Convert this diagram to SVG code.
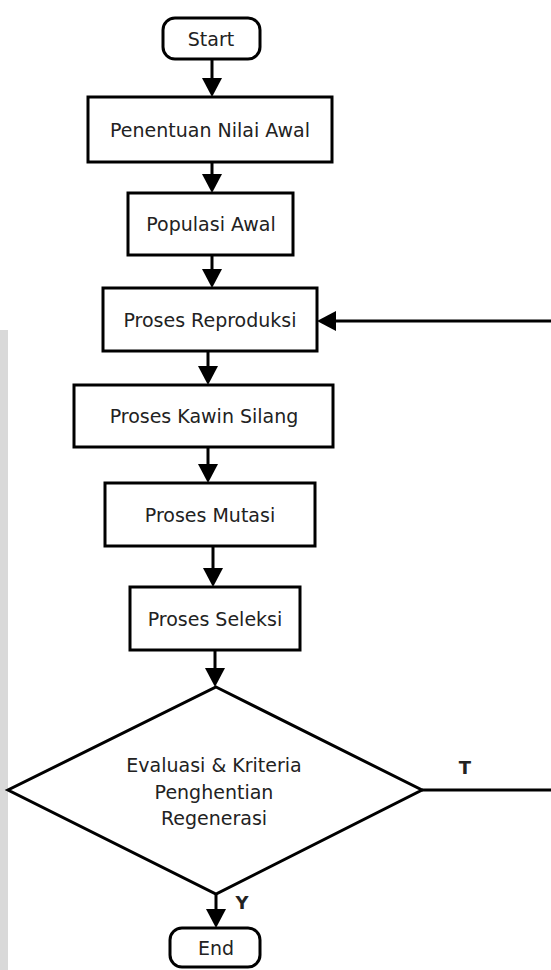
<svg xmlns="http://www.w3.org/2000/svg" width="551" height="970" viewBox="0 0 551 970">
  <style>
    .box { fill: #ffffff; stroke: #000000; stroke-width: 3; }
    .lbl { font-family: "DejaVu Sans", Verdana, sans-serif; font-size: 19px; fill: #222222; text-anchor: middle; }
    .tag { font-family: "DejaVu Sans", Verdana, sans-serif; font-size: 18px; font-weight: bold; fill: #222222; text-anchor: middle; }
    .edge { fill: none; stroke: #000000; stroke-width: 3; marker-end: url(#head); }
    .plain { fill: none; stroke: #000000; stroke-width: 3; }
  </style>
  <defs>
    <marker id="head" viewBox="0 0 19 20" refX="11" refY="10" markerWidth="19" markerHeight="20" markerUnits="userSpaceOnUse" orient="auto">
      <path d="M0,0 L19,10 L0,20 Z" fill="#000000"/>
    </marker>
  </defs>

  <rect x="0" y="0" width="551" height="970" fill="#ffffff"/>
  <rect x="0" y="330" width="8" height="640" fill="#d9d9d9"/>

  <g id="connectors">
    <line class="edge" x1="212" y1="59" x2="212" y2="89"/>
    <line class="edge" x1="212" y1="162" x2="212" y2="185"/>
    <line class="edge" x1="212" y1="255" x2="212" y2="280"/>
    <line class="edge" x1="208" y1="351" x2="208" y2="377"/>
    <line class="edge" x1="208" y1="447" x2="208" y2="475"/>
    <line class="edge" x1="213" y1="546" x2="213" y2="579"/>
    <line class="edge" x1="215" y1="650" x2="215" y2="679"/>
    <line class="edge" x1="216" y1="894" x2="216" y2="920"/>
    <!-- "T" branch loops back to the reproduction step past the right edge -->
    <polyline class="edge" points="422,790 560,790 560,321 325,321"/>
  </g>

  <g id="start">
    <rect class="box" x="163" y="18" width="97" height="41" rx="12"/>
    <text class="lbl" x="211" y="46">Start</text>
  </g>
  <g id="penentuan">
    <rect class="box" x="88" y="97" width="244" height="65"/>
    <text class="lbl" x="210" y="137">Penentuan Nilai Awal</text>
  </g>
  <g id="populasi">
    <rect class="box" x="128" y="193" width="165" height="62"/>
    <text class="lbl" x="211" y="231">Populasi Awal</text>
  </g>
  <g id="reproduksi">
    <rect class="box" x="103" y="288" width="214" height="63"/>
    <text class="lbl" x="210" y="327">Proses Reproduksi</text>
  </g>
  <g id="kawin-silang">
    <rect class="box" x="74" y="385" width="259" height="62"/>
    <text class="lbl" x="204" y="423">Proses Kawin Silang</text>
  </g>
  <g id="mutasi">
    <rect class="box" x="105" y="483" width="210" height="63"/>
    <text class="lbl" x="210" y="522">Proses Mutasi</text>
  </g>
  <g id="seleksi">
    <rect class="box" x="130" y="587" width="170" height="63"/>
    <text class="lbl" x="215" y="626">Proses Seleksi</text>
  </g>
  <g id="evaluasi">
    <polygon class="box" points="216,687 422,790 216,894 8,790"/>
    <text class="lbl" x="214" y="772">Evaluasi &amp; Kriteria</text>
    <text class="lbl" x="214" y="799">Penghentian</text>
    <text class="lbl" x="214" y="825">Regenerasi</text>
    <text class="tag" x="465" y="774">T</text>
    <text class="tag" x="242" y="909">Y</text>
  </g>
  <g id="end">
    <rect class="box" x="170" y="928" width="90" height="39" rx="12"/>
    <text class="lbl" x="216" y="955">End</text>
  </g>
</svg>
